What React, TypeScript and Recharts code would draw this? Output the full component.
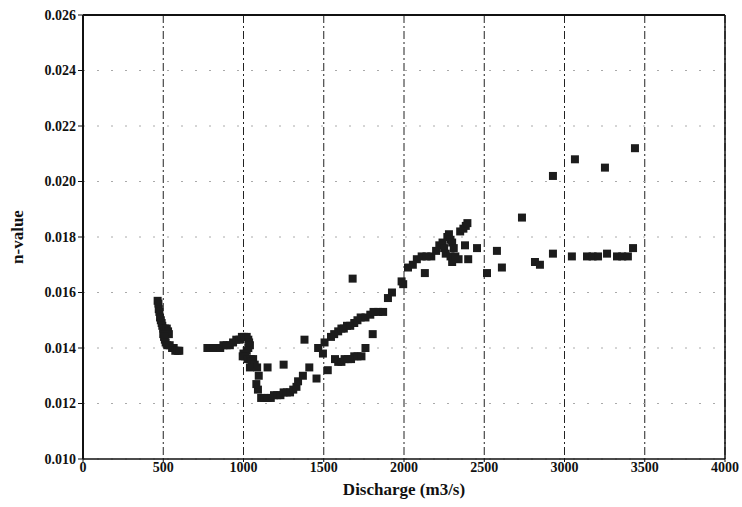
import { ScatterChart, Scatter, XAxis, YAxis, ZAxis, CartesianGrid, ReferenceLine } from 'recharts'

// discharge (m3/s), n-value, grouped by cluster
const lowFlow: [number, number][] = [
  [465, 0.0157], [470, 0.0156], [472, 0.0154], [476, 0.0153], [480, 0.0151],
  [485, 0.015], [490, 0.0149], [494, 0.0148], [500, 0.0147], [505, 0.0146],
  [512, 0.0147], [522, 0.0147], [530, 0.0146], [535, 0.0145], [500, 0.0145],
  [505, 0.0144], [510, 0.0143], [515, 0.0142], [525, 0.0141], [540, 0.0141],
  [555, 0.014], [565, 0.014], [575, 0.0139], [590, 0.0139], [600, 0.0139],
]

const arc1000: [number, number][] = [
  [775, 0.014], [795, 0.014], [815, 0.014], [835, 0.014], [855, 0.014],
  [875, 0.0141], [895, 0.0141], [915, 0.0141], [935, 0.0142], [955, 0.0143],
  [975, 0.0143], [990, 0.0144], [1005, 0.0144], [1020, 0.0144], [1030, 0.0143],
  [1035, 0.0142], [1040, 0.0141], [1030, 0.014], [1020, 0.0139], [1000, 0.0138],
  [995, 0.0137], [1010, 0.0137], [1025, 0.0136], [1045, 0.0136], [1060, 0.0136],
  [1050, 0.0135], [1070, 0.0134], [1040, 0.0133], [1085, 0.0133], [1095, 0.013],
  [1090, 0.0125], [1080, 0.0127],
]

const lowBranch: [number, number][] = [
  [1110, 0.0122], [1130, 0.0122], [1150, 0.0122], [1170, 0.0122], [1190, 0.0123],
  [1210, 0.0123], [1230, 0.0123], [1250, 0.0124], [1270, 0.0124], [1290, 0.0124],
  [1310, 0.0125], [1330, 0.0126], [1150, 0.0133], [1250, 0.0134], [1340, 0.0128],
  [1370, 0.013], [1410, 0.0133], [1455, 0.0129], [1525, 0.0132], [1570, 0.0136],
  [1590, 0.0135], [1610, 0.0135], [1630, 0.0136], [1650, 0.0136], [1670, 0.0136],
  [1690, 0.0137], [1710, 0.0137], [1735, 0.0137], [1760, 0.014], [1805, 0.0145],
]

const highBranch: [number, number][] = [
  [1380, 0.0143], [1465, 0.014], [1495, 0.0138], [1505, 0.0142], [1545, 0.0144],
  [1565, 0.0145], [1590, 0.0146], [1610, 0.0147], [1625, 0.0147], [1645, 0.0148],
  [1665, 0.0148], [1690, 0.0149], [1710, 0.015], [1730, 0.0151], [1760, 0.0151],
  [1790, 0.0152], [1810, 0.0153], [1840, 0.0153], [1870, 0.0153], [1680, 0.0165],
  [1900, 0.0158], [1925, 0.016], [1985, 0.0164], [1995, 0.0163],
]

const midFlow: [number, number][] = [
  [2025, 0.0169], [2055, 0.017], [2080, 0.0172], [2110, 0.0173], [2140, 0.0173],
  [2130, 0.0167], [2170, 0.0173], [2200, 0.0175], [2220, 0.0177], [2240, 0.0178],
  [2250, 0.0176], [2260, 0.0174], [2270, 0.018], [2280, 0.0181], [2290, 0.0179],
  [2300, 0.0178], [2310, 0.0176], [2290, 0.0173], [2300, 0.0171], [2320, 0.0173],
  [2340, 0.0172], [2350, 0.0182], [2370, 0.0183], [2385, 0.0184], [2395, 0.0185],
  [2380, 0.0177], [2455, 0.0176], [2400, 0.0172],
]

const highFlow: [number, number][] = [
  [2517, 0.0167], [2579, 0.0175], [2610, 0.0169], [2735, 0.0187], [2816, 0.0171],
  [2847, 0.017], [2928, 0.0174], [2928, 0.0202], [3065, 0.0208], [3046, 0.0173],
  [3140, 0.0173], [3175, 0.0173], [3209, 0.0173], [3265, 0.0174], [3252, 0.0205],
  [3327, 0.0173], [3360, 0.0173], [3395, 0.0173], [3427, 0.0176], [3439, 0.0212],
]

const xTicks = [0, 500, 1000, 1500, 2000, 2500, 3000, 3500, 4000]
const yTicks = [0.01, 0.012, 0.014, 0.016, 0.018, 0.02, 0.022, 0.024, 0.026]

const points = [...lowFlow, ...arc1000, ...lowBranch, ...highBranch, ...midFlow, ...highFlow].map(
  ([q, n]) => ({ q, n })
)

const FONT = '"Liberation Serif", "DejaVu Serif", serif'
const tickStyle = { fontFamily: FONT, fontSize: 14, fontWeight: 700, fill: '#111' }
const titleStyle = { fontFamily: FONT, fontSize: 17, fontWeight: 700, fill: '#111' }

export default function App() {
  return (
    <div style={{ position: 'absolute', left: 0, top: 0, background: '#fff' }}>
      <ScatterChart width={742} height={507} margin={{ top: 15, right: 17, bottom: 8, left: 10 }}>
        <CartesianGrid horizontal={false} stroke="#222" strokeDasharray="8 3 2 3" />
        <CartesianGrid vertical={false} stroke="#aaa" strokeDasharray="2 12" />
        <XAxis
          type="number"
          dataKey="q"
          domain={[0, 4000]}
          ticks={xTicks}
          interval={0}
          height={40}
          tickSize={3}
          tickMargin={0}
          tick={tickStyle}
          stroke="#111"
          axisLine={{ stroke: '#111', strokeWidth: 1.5 }}
          label={{ value: 'Discharge (m3/s)', position: 'insideBottom', offset: 4, style: titleStyle }}
        />
        <YAxis
          type="number"
          dataKey="n"
          domain={[0.01, 0.026]}
          ticks={yTicks}
          interval={0}
          width={73}
          tickSize={5}
          tickMargin={2}
          tick={tickStyle}
          tickFormatter={(v: number) => v.toFixed(3)}
          stroke="#111"
          axisLine={{ stroke: '#111', strokeWidth: 2 }}
          label={{
            value: 'n-value',
            angle: -90,
            position: 'insideLeft',
            offset: 7,
            style: { ...titleStyle, textAnchor: 'middle' },
          }}
        />
        <ZAxis range={[42, 42]} />
        <ReferenceLine y={0.026} stroke="#111" strokeWidth={2} />
        <ReferenceLine x={4000} stroke="#111" strokeWidth={1.5} />
        <Scatter data={points} shape="square" fill="#1c1c1c" isAnimationActive={false} />
      </ScatterChart>
    </div>
  )
}
